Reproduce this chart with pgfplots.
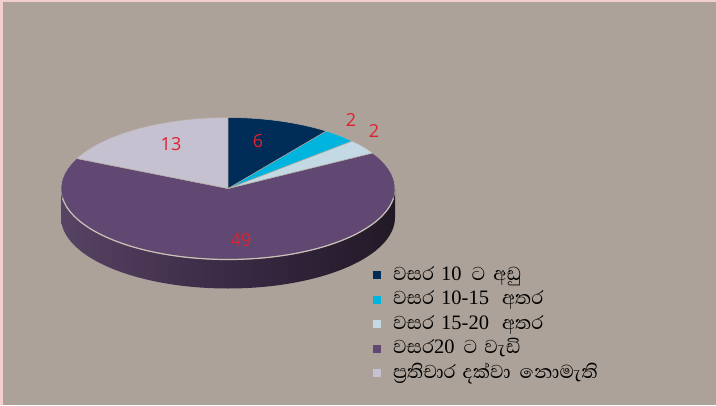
\documentclass[border=0pt]{standalone}
\usepackage{fontspec}
\usepackage{pgfplots}
\usepackage{pgfplotstable}
\pgfplotsset{compat=1.18}
\setmainfont{Open Sans}
\newfontfamily\sinhala[Script=Sinhala]{Abhaya Libre}
\newfontfamily\latinserif{Liberation Serif}

\definecolor{page}{HTML}{ADA299}
\definecolor{pageedge}{HTML}{F3CFCF}
\definecolor{sliceA}{HTML}{002D58}
\definecolor{sliceB}{HTML}{00B4E0}
\definecolor{sliceC}{HTML}{C3DAE5}
\definecolor{sliceD}{HTML}{604873}
\definecolor{sliceE}{HTML}{C6C1D1}
\definecolor{seam}{HTML}{B5AAA0}
\definecolor{rimL}{HTML}{574363}
\definecolor{rimM}{HTML}{3A2A45}
\definecolor{rimR}{HTML}{221926}
\definecolor{lip}{HTML}{C9C0B6}
\definecolor{numred}{HTML}{E0202F}

% respondents per group; "view" is the foreshortening of each slice on the tilted disc
\pgfplotstableread{
value view
6     1.2
2     1.2
2     1.2
49    0.9592
13    1.0
}\slices

% geometry of the disc
\def\cx{228}\def\cy{188.5}\def\rx{167}\def\ry{71}\def\depth{29}

% 72 respondents share the full turn, so one respondent is 5 degrees
\newcommand\nextangle[3]{% row, previous angle, result macro
  \pgfplotstablegetelem{#1}{value}\of\slices\let\v\pgfplotsretval
  \pgfplotstablegetelem{#1}{view}\of\slices\let\w\pgfplotsretval
  \pgfmathsetmacro#3{#2+\v*5*\w}}

% legend text: Sinhala words with serif numerals
\newcommand\num[1]{{\latinserif\fontsize{20.5}{22}\selectfont #1}}
\newcommand\gap[1]{\hspace{#1pt}}

\begin{document}
\begin{tikzpicture}
\nextangle{0}{0}\angA
\nextangle{1}{\angA}\angB
\nextangle{2}{\angB}\angC
\nextangle{3}{\angC}\angD
\def\angE{360}
\begin{axis}[
  width=716pt, height=405pt, scale only axis,
  xmin=0, xmax=716, ymin=0, ymax=405, y dir=reverse,
  axis lines=none, clip=false,
  legend style={at={(axis cs:373,264)}, anchor=north west, draw=none, fill=none,
    inner sep=0pt, outer sep=0pt, row sep=0pt,
    nodes={inner sep=0pt, text height=16pt, text depth=8.5pt, anchor=west,
      font=\sinhala\fontsize{24}{26}\selectfont}},
  legend cell align=left,
  legend image code/.code={\fill[draw=none,#1] (0pt,-3pt) rectangle (8pt,5pt);},
]
% page with its pale edge
\addplot[fill=pageedge, draw=none, forget plot] coordinates {(0,0) (716,0) (716,405) (0,405)} -- cycle;
\addplot[fill=page, draw=none, forget plot] coordinates {(3,2) (716,2) (716,405) (3,405)} -- cycle;

% side wall of the disc
\addplot[draw=none, left color=rimL, right color=rimR, middle color=rimM, forget plot,
  domain=90:270, samples=90, smooth]
  ({\cx+\rx*sin(x)},{\cy+\depth-\ry*cos(x)}) -- (axis cs:61,\cy) -- (axis cs:395,\cy) -- cycle;

% top face
\addplot[fill=sliceD, draw=seam, line width=0.5pt, forget plot, domain=\angC:\angD, samples=120]
  ({\cx+\rx*sin(x)},{\cy-\ry*cos(x)}) -- (axis cs:\cx,\cy) -- cycle;
\addplot[fill=sliceE, draw=seam, line width=0.5pt, forget plot, domain=\angD:\angE, samples=40]
  ({\cx+\rx*sin(x)},{\cy-\ry*cos(x)}) -- (axis cs:\cx,\cy) -- cycle;
\addplot[fill=sliceC, draw=seam, line width=0.5pt, forget plot, domain=\angB:\angC, samples=20]
  ({\cx+\rx*sin(x)},{\cy-\ry*cos(x)}) -- (axis cs:\cx,\cy) -- cycle;
\addplot[fill=sliceB, draw=seam, line width=0.5pt, forget plot, domain=\angA:\angB, samples=20]
  ({\cx+\rx*sin(x)},{\cy-\ry*cos(x)}) -- (axis cs:\cx,\cy) -- cycle;
\addplot[fill=sliceA, draw=seam, line width=0.5pt, forget plot, domain=0:\angA, samples=30]
  ({\cx+\rx*sin(x)},{\cy-\ry*cos(x)}) -- (axis cs:\cx,\cy) -- cycle;

% bright lip along the front edge
\addplot[draw=lip, line width=1.2pt, forget plot, domain=98:262, samples=90]
  ({\cx+\rx*sin(x)},{\cy-\ry*cos(x)});

% counts on the slices
\begin{scope}[every node/.style={text=numred, inner sep=0pt, font=\fontsize{18}{20}\selectfont}]
\node at (axis cs:258,141) {6};
\node at (axis cs:351,120) {2};
\node at (axis cs:374,131) {2};
\node at (axis cs:241,240) {49};
\node at (axis cs:171,144) {13};
\end{scope}

\addlegendimage{fill=sliceA}
\addlegendentry{\gap{12}වසර\gap{7}\num{10}\gap{10}ට\gap{8}අඩු}
\addlegendimage{fill=sliceB}
\addlegendentry{\gap{12}වසර\gap{7}\num{10-15}\gap{13}අතර}
\addlegendimage{fill=sliceC}
\addlegendentry{\gap{12}වසර\gap{7}\num{15-20}\gap{13}අතර}
\addlegendimage{fill=sliceD}
\addlegendentry{\gap{12}වසර\gap{0}\num{20}\gap{9}ට\gap{7}වැඩි}
\addlegendimage{fill=sliceE}
\addlegendentry{\gap{12}ප්‍රතිචාර\gap{7}දක්වා\gap{9}නොමැති}
\end{axis}
\end{tikzpicture}
\end{document}
